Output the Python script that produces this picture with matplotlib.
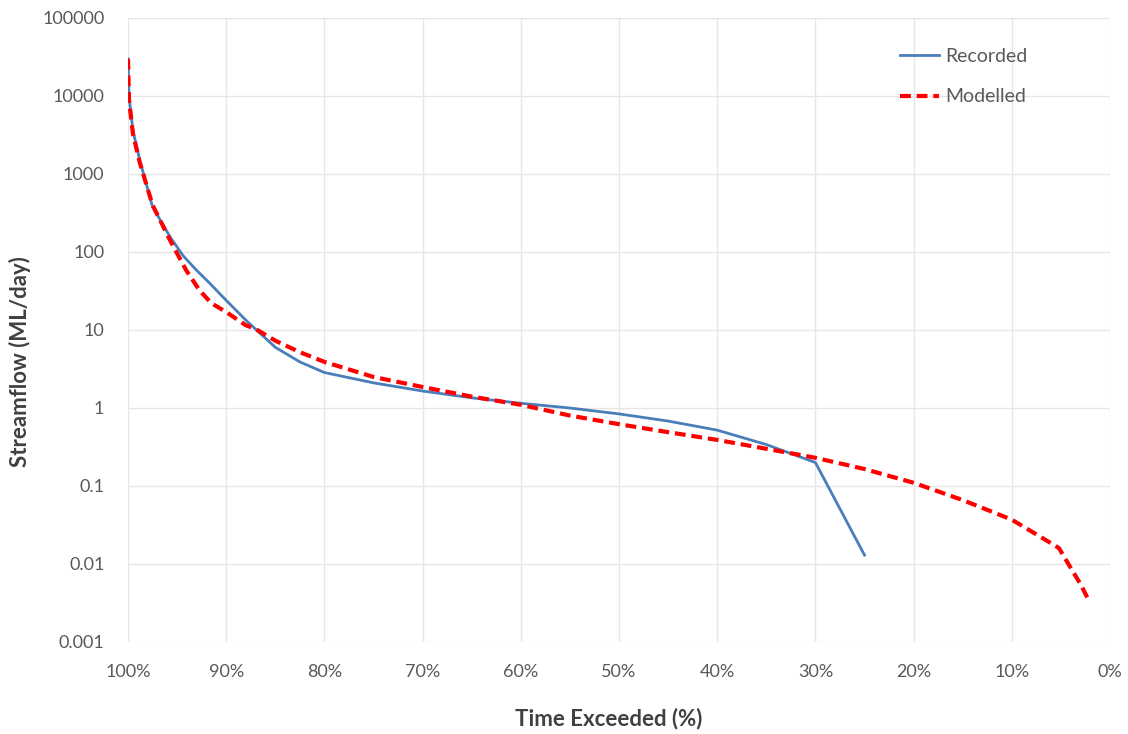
import matplotlib
matplotlib.use("Agg")
import matplotlib.pyplot as plt
from matplotlib.ticker import FixedLocator, NullLocator

# Time exceeded (%) and streamflow (ML/day)
rec_x = [100, 99.9, 99.5, 98.8, 97.5, 95.7, 94.4, 93.0, 91.7, 90.0, 87.9, 85.0, 82.5, 80.0,
         75.0, 70.0, 65.0, 60.0, 55.0, 50.0, 45.0, 40.0, 35.0, 30.0, 25.0]
rec_y = [30000, 10000, 3600, 1500, 380, 155, 90, 58, 40, 24, 13, 6.0, 3.9, 2.85,
         2.1, 1.65, 1.35, 1.15, 1.0, 0.84, 0.68, 0.52, 0.34, 0.20, 0.013]

mod_x = [100, 99.9, 99.5, 98.8, 97.5, 95.7, 94.1, 92.7, 91.5, 90.0, 88.0, 87.0, 85.0, 82.5, 80.0,
         75.0, 70.0, 65.0, 60.0, 55.0, 50.0, 45.0, 40.0, 35.0, 30.0, 25.0,
         20.0, 15.0, 10.0, 7.0, 5.2, 3.9, 3.0, 2.1]
mod_y = [30000, 9000, 3300, 1400, 400, 140, 59, 32, 22, 17, 11.5, 10.3, 7.3, 5.2, 3.9,
         2.5, 1.86, 1.4, 1.1, 0.8, 0.62, 0.49, 0.39, 0.30, 0.23, 0.165,
         0.11, 0.066, 0.037, 0.022, 0.016, 0.0085, 0.0055, 0.0033]

x_ticks = [100, 90, 80, 70, 60, 50, 40, 30, 20, 10, 0]
y_ticks = [0.001, 0.01, 0.1, 1, 10, 100, 1000, 10000, 100000]
y_labels = ["0.001", "0.01", "0.1", "1", "10", "100", "1000", "10000", "100000"]

plt.rcParams['font.family'] = ['Lato', 'DejaVu Sans']

fig = plt.figure(figsize=(11.28, 7.34), dpi=100)
ax = fig.add_axes([128/1128, 1-642/734, (1110-128)/1128, (642-18)/734])

ax.plot(rec_x, rec_y, color="#4a7ebb", lw=2.0, label="Recorded", zorder=3)
ax.plot(mod_x, mod_y, color="#ff0000", lw=3.0, ls=(0, (2.6, 1.4)), label="Modelled", zorder=4)

ax.set_yscale("log")
ax.set_ylim(0.001, 100000)
ax.set_xlim(100, 0)
ax.yaxis.set_major_locator(FixedLocator(y_ticks))
ax.yaxis.set_minor_locator(NullLocator())
ax.set_yticklabels(y_labels)
ax.set_xticks(x_ticks)
ax.set_xticklabels([f"{v}%" for v in x_ticks])

ax.grid(True, color="#e6e6e6", lw=1.0)
ax.set_axisbelow(True)
for s in ax.spines.values():
    s.set_visible(False)
ax.tick_params(axis="both", length=0, labelsize=13, colors="#595959")
ax.tick_params(axis="y", pad=17)
ax.tick_params(axis="x", pad=16)

ax.set_ylabel("Streamflow (ML/day)", fontsize=16, fontweight="bold", color="#404040")
ax.yaxis.set_label_coords(-0.099, 0.4495)
ax.set_xlabel("Time Exceeded (%)", fontsize=16, fontweight="bold", color="#404040")
ax.xaxis.set_label_coords(0.489, -0.106)

leg = ax.legend(loc="upper left", bbox_to_anchor=(900/1128, 1-48/734),
                bbox_transform=fig.transFigure, frameon=False, fontsize=14,
                borderpad=0, borderaxespad=0,
                handlelength=2.0, handletextpad=0.35, labelspacing=1.2)
for t in leg.get_texts():
    t.set_color("#595959")

fig.savefig("out.png", dpi=100)
